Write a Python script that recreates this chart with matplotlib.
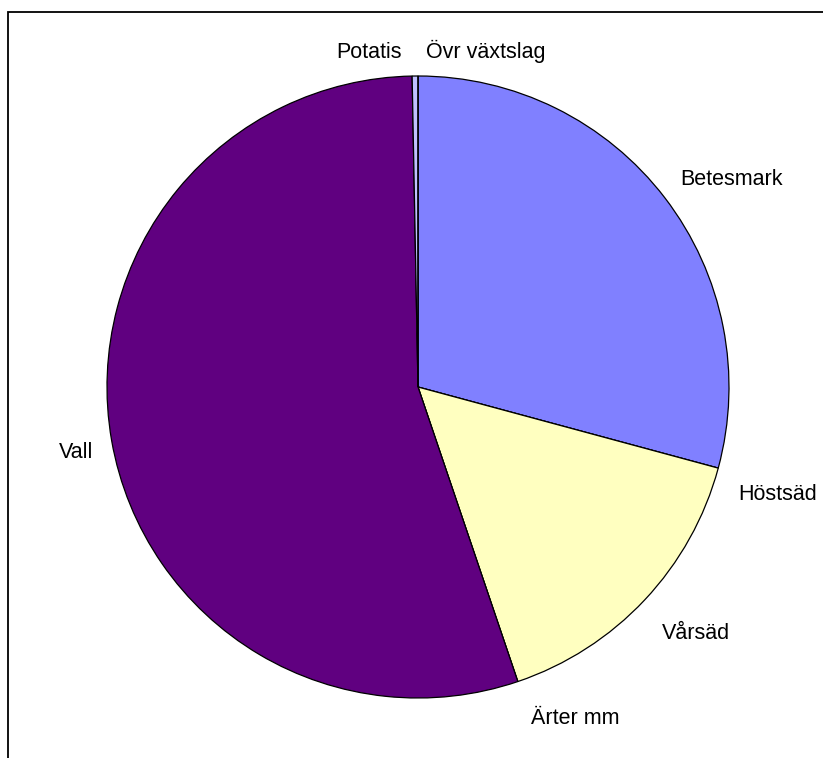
import numpy as np
import matplotlib.pyplot as plt
from matplotlib.patches import Rectangle

# Andel av arealen per gröda (%), läst ur bilden
labels = ['Betesmark', 'Höstsäd', 'Vårsäd', 'Ärter mm', 'Vall', 'Potatis', 'Övr växtslag']
values = [29.2, 0.0, 15.6, 0.0, 54.9, 0.3, 0.0]
colors = ['#8080FF', '#802060', '#FFFFC0', '#A0E0E0', '#600080', '#C0C0FF', '#0080C0']

# label alignment and nudges (pixels) to mimic Excel's placement
ha = ['left', 'left', 'left', 'left', 'right', 'right', 'left']
va = ['bottom', 'center', 'top', 'top', 'center', 'bottom', 'bottom']
nudge = [(-3, -6), (-3, -20), (0, -7), (6, -4), (5, -8), (-13, -4), (8, -4)]

plt.rcParams['font.family'] = ['Liberation Sans', 'DejaVu Sans']

fig = plt.figure(figsize=(8.23, 7.58), dpi=100)
fig.patches.append(Rectangle((8 / 823, -0.1), 1.1, 1 - 12 / 758 + 0.1,
                             transform=fig.transFigure, fill=False,
                             edgecolor='black', linewidth=1.3))

ax = fig.add_axes([107 / 823, 60 / 758, 622 / 823, 622 / 758])
wedges, _ = ax.pie(values, colors=colors, startangle=90, counterclock=False,
                   wedgeprops=dict(edgecolor='black', linewidth=0.9))

for w, lab, h, v, d in zip(wedges, labels, ha, va, nudge):
    ang = np.deg2rad((w.theta1 + w.theta2) / 2)
    r = 1.055 if v == 'bottom' and abs(np.cos(ang)) < 0.2 else 1.075
    ax.annotate(lab, (r * np.cos(ang), r * np.sin(ang)), xytext=d,
                textcoords='offset pixels', ha=h, va=v, fontsize=15.5,
                annotation_clip=False)

ax.set_xlim(-1, 1)
ax.set_ylim(-1, 1)
ax.set_aspect('equal')
ax.axis('off')

plt.savefig('out.png', dpi=100)
